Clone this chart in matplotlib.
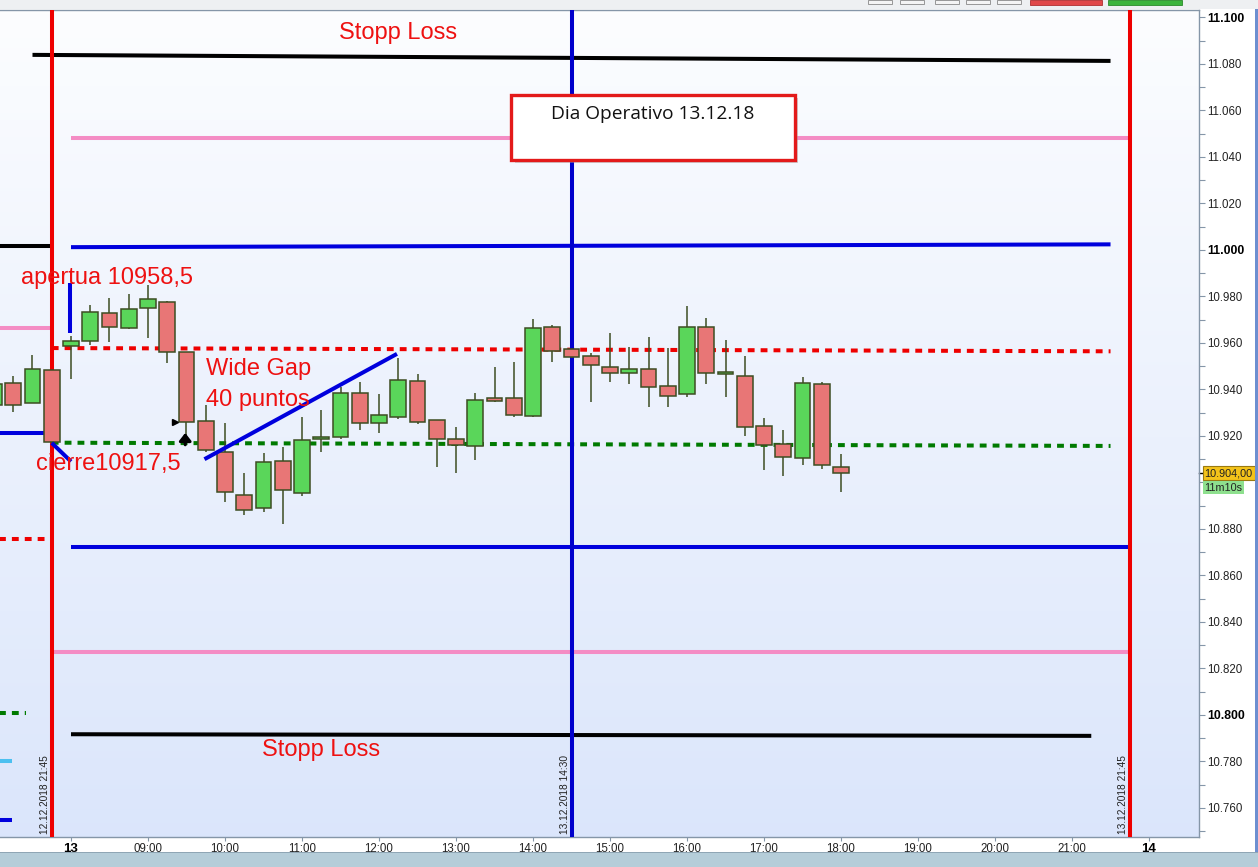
import matplotlib
matplotlib.use("Agg")
import matplotlib.pyplot as plt
import numpy as np
from matplotlib.patches import Rectangle

plt.rcParams['font.family'] = ['Liberation Sans', 'DejaVu Sans']

# ---------------- data ----------------
bar_times = ["12 21:00", "12 21:15", "12 21:30", "12 21:45",
             "13 08:00", "13 08:15", "13 08:30", "13 08:45",
             "13 09:00", "13 09:15", "13 09:30", "13 09:45",
             "13 10:00", "13 10:15", "13 10:30", "13 10:45",
             "13 11:00", "13 11:15", "13 11:30", "13 11:45",
             "13 12:00", "13 12:15", "13 12:30", "13 12:45",
             "13 13:00", "13 13:15", "13 13:30", "13 13:45",
             "13 14:00", "13 14:15", "13 14:30", "13 14:45",
             "13 15:00", "13 15:15", "13 15:30", "13 15:45",
             "13 16:00", "13 16:15", "13 16:30", "13 16:45",
             "13 17:00", "13 17:15", "13 17:30", "13 17:45",
             "13 18:00"]
opens = [10933.5, 10942.7, 10934.0, 10948.3,
         10958.5, 10961.0, 10972.8, 10966.3,
         10975.0, 10977.8, 10956.0, 10926.6,
         10913.3, 10894.5, 10888.9, 10909.4,
         10895.4, 10918.5, 10919.4, 10938.4,
         10925.5, 10928.3, 10943.7, 10926.7,
         10918.6, 10915.6, 10936.2, 10936.2,
         10928.4, 10966.8, 10957.3, 10954.3,
         10949.6, 10947.0, 10948.7, 10941.4,
         10937.9, 10966.8, 10946.6, 10945.9,
         10924.1, 10916.4, 10910.5, 10942.2,
         10906.5]
highs = [10944.0, 10945.9, 10954.7, 10948.5,
         10963.0, 10976.3, 10979.2, 10981.1,
         10984.9, 10978.0, 10956.0, 10933.3,
         10925.4, 10904.0, 10912.6, 10915.4,
         10928.3, 10931.0, 10941.0, 10943.1,
         10937.9, 10953.5, 10946.5, 10927.0,
         10924.0, 10938.4, 10949.5, 10951.7,
         10970.2, 10967.7, 10958.0, 10955.6,
         10964.4, 10958.1, 10962.4, 10957.7,
         10975.9, 10970.6, 10961.3, 10954.4,
         10927.9, 10922.6, 10945.2, 10943.0,
         10912.3]
lows = [10932.0, 10930.2, 10934.0, 10917.0,
        10944.4, 10959.1, 10960.6, 10966.0,
        10962.3, 10951.5, 10918.3, 10913.0,
        10891.4, 10886.0, 10887.5, 10882.0,
        10894.0, 10913.3, 10918.8, 10922.6,
        10921.4, 10927.5, 10925.0, 10906.5,
        10904.2, 10909.7, 10934.8, 10928.0,
        10928.0, 10952.0, 10953.5, 10934.4,
        10943.4, 10942.4, 10932.6, 10932.6,
        10936.6, 10942.2, 10936.9, 10919.8,
        10905.4, 10902.9, 10907.3, 10905.8,
        10896.0]
closes = [10942.5, 10933.3, 10948.7, 10917.5,
          10960.7, 10973.2, 10966.8, 10974.5,
          10978.8, 10956.0, 10925.9, 10914.0,
          10896.0, 10888.2, 10909.0, 10896.8,
          10918.3, 10919.0, 10938.4, 10925.5,
          10929.0, 10944.1, 10925.9, 10918.6,
          10916.0, 10935.5, 10935.0, 10928.9,
          10966.3, 10956.4, 10954.1, 10950.3,
          10947.0, 10948.7, 10941.0, 10937.1,
          10966.8, 10947.0, 10947.4, 10923.7,
          10916.0, 10910.8, 10942.7, 10907.4,
          10904.0]

# drawn levels: (start, end, value at start, value at end, colour, style)
level_starts = ["12 21:30", "13 08:00", "13 08:00", "12 20:00", "12 20:00",
                "12 21:45", "12 21:45", "12 20:00", "12 20:00", "13 08:00",
                "12 21:45", "12 20:00", "13 08:00", "12 20:00", "12 20:00"]
level_ends = ["13 21:30", "13 21:45", "13 21:30", "12 21:45", "12 21:45",
              "13 21:30", "13 21:30", "12 21:45", "12 21:45", "13 21:45",
              "13 21:45", "12 21:25", "13 21:15", "12 21:14", "12 21:14"]
level_v0 = [11083.9, 11048.0, 11001.2, 11001.7, 10966.3,
            10957.8, 10917.1, 10921.4, 10875.6, 10872.4,
            10827.1, 10801.0, 10791.7, 10780.2, 10754.8]
level_v1 = [11081.3, 11048.0, 11002.4, 11001.7, 10966.3,
            10956.4, 10915.7, 10921.4, 10875.6, 10872.4,
            10827.1, 10801.0, 10791.0, 10780.2, 10754.8]
level_colors = ["#000000", "#f48cc4", "#0000dd", "#000000", "#f48cc4",
                "#ee0000", "#007a00", "#0000dd", "#ee0000", "#0000dd",
                "#f48cc4", "#007a00", "#000000", "#4cc0f0", "#0000dd"]
level_dashed = [False, False, False, False, False,
                True, True, False, True, False,
                False, True, False, False, False]

# vertical session markers
vline_times = ["12 21:45", "13 14:30", "13 21:45"]
vline_labels = ["12.12.2018 21:45", "13.12.2018 14:30", "13.12.2018 21:45"]
vline_colors = ["#ee0000", "#0000cc", "#ee0000"]

# trend/annotation segments: (time0, value0, time1, value1)
seg_t0 = ["13 09:44", "12 21:45", "13 07:59"]
seg_v0 = [10910.0, 10917.0, 10985.7]
seg_t1 = ["13 12:14", "13 08:00", "13 07:59"]
seg_v1 = [10955.3, 10909.0, 10964.2]

x_tick_times = ["12 21:00", "13 08:00", "13 09:00", "13 10:00", "13 11:00", "13 12:00",
                "13 13:00", "13 14:00", "13 15:00", "13 16:00", "13 17:00",
                "13 18:00", "13 19:00", "13 20:00", "13 21:00", "13 22:00"]
x_tick_labels = ["21:00", "13", "09:00", "10:00", "11:00", "12:00", "13:00",
                 "14:00", "15:00", "16:00", "17:00", "18:00", "19:00",
                 "20:00", "21:00", "14"]

last_price = 10904.0
countdown = "11m10s"


def pos(t):
    """compressed session axis: 12th 22:00 == 13th 08:00"""
    day, hm = t.split()
    hh, mm = hm.split(":")
    h = int(hh) + int(mm) / 60.0
    return h - 14.0 if day == "12" else h


# ---------------- figure ----------------
W, H = 1258, 867
fig = plt.figure(figsize=(W / 100, H / 100), dpi=100)
fig.patch.set_facecolor("white")

ax_l, ax_r, ax_t, ax_b = 0, 1199, 10, 837
ax = fig.add_axes([ax_l / W, (H - ax_b) / H, (ax_r - ax_l) / W, (ax_b - ax_t) / H])

xmin, xmax = 7.078, 22.649
ymin, ymax = 10747.5, 11103.2

# background gradient
grad = np.linspace(0, 1, 256).reshape(-1, 1)
top_c = np.array([0.992, 0.995, 1.0])
bot_c = np.array([0.855, 0.898, 0.984])
img = top_c[None, None, :] * (1 - grad[:, :, None]) + bot_c[None, None, :] * grad[:, :, None]
ax.imshow(img, extent=[xmin - 1, xmax + 1, ymin - 10, ymax + 10], aspect="auto",
          origin="upper", zorder=0)

# levels
for s, e, v0, v1, c, d in zip(level_starts, level_ends, level_v0, level_v1, level_colors, level_dashed):
    ln, = ax.plot([pos(s), pos(e)], [v0, v1], color=c, lw=2.9, zorder=2,
                  solid_capstyle="butt")
    if d:
        ln.set_dashes((1.7, 1.5))

# vertical lines
for t, lab, c in zip(vline_times, vline_labels, vline_colors):
    ax.axvline(pos(t), color=c, lw=2.9, zorder=3)
    ax.annotate(lab, xy=(pos(t), ymin), xytext=(-1.2, 2), textcoords="offset points",
                rotation=90, ha="right", va="bottom", fontsize=7.3, color="#222222", zorder=6)

# candles
xs = np.array([pos(t) for t in bar_times])
o = np.array(opens); c_ = np.array(closes); hi = np.array(highs); lo = np.array(lows)
up = c_ >= o
edge = "#3d4d22"
ax.vlines(xs, lo, hi, color=edge, lw=1.1, zorder=4)
body_bot = np.minimum(o, c_)
body_h = np.maximum(np.abs(c_ - o), 0.9)
fills = np.where(up, "#5ad65a", "#e87676")
ax.bar(xs, body_h, bottom=body_bot, width=0.205, color=fills, edgecolor=edge,
       linewidth=1.1, zorder=5)

# annotation segments
for t0, v0, t1, v1 in zip(seg_t0, seg_v0, seg_t1, seg_v1):
    ax.plot([pos(t0), pos(t1)], [v0, v1], color="#0000dd", lw=2.9, zorder=6,
            solid_capstyle="butt")

# small markers
ax.annotate("", xy=(pos("13 09:29"), 10922.5), xytext=(pos("13 09:29"), 10915.0),
            arrowprops=dict(arrowstyle="-|>,head_width=0.35,head_length=0.45",
                            color="black", lw=2.2), zorder=7)
ax.plot([pos("13 09:21")], [10926.0], marker=">", color="black", ms=4.5, zorder=7)

# texts
red = "#ee1111"
ax.text(pos("13 12:15"), 11093.5, "Stopp Loss", color=red, fontsize=17, ha="center", va="center", zorder=7)
ax.text(pos("13 11:15"), 10785.0, "Stopp Loss", color=red, fontsize=17, ha="center", va="center", zorder=7)
ax.text(pos("12 21:21"), 10988.0, "apertua 10958,5", color=red, fontsize=17, ha="left", va="center", zorder=7)
ax.text(pos("13 09:45"), 10949.0, "Wide Gap", color=red, fontsize=17, ha="left", va="center", zorder=7)
ax.text(pos("13 09:45"), 10935.5, "40 puntos", color=red, fontsize=17, ha="left", va="center", zorder=7)
ax.text(pos("12 21:33"), 10908.0, "cierre10917,5", color=red, fontsize=17, ha="left", va="center", zorder=7)

# info box
bx0, bx1 = pos("13 13:43"), pos("13 17:24")
by0, by1 = 11000 - (160 - 250) / 2.325, 11000 - (95 - 250) / 2.325
ax.add_patch(Rectangle((bx0 + 0.045, by0 - 1.5), bx1 - bx0, by1 - by0, facecolor="#a0a0a0",
                       alpha=0.45, edgecolor="none", zorder=7))
ax.add_patch(Rectangle((bx0, by0), bx1 - bx0, by1 - by0, facecolor="white",
                       edgecolor="#e31a1a", lw=2.4, zorder=8))
ax.text((bx0 + bx1) / 2, by1 - 8, "Dia Operativo 13.12.18", family=["Open Sans", "DejaVu Sans"],
        fontsize=13.8, ha="center", va="center", color="#111111", zorder=9)

# axes styling
ax.spines["left"].set_visible(False)
for side in ["right", "bottom", "top"]:
    ax.spines[side].set_color("#8596a8")
    ax.spines[side].set_linewidth(1.0)

ax.yaxis.tick_right()
yt = np.arange(10760, 11101, 20)
ax.set_yticks(yt)
ylabels = []
for v in yt:
    if abs(v - 10900) < 1:
        ylabels.append("")
    else:
        ylabels.append(f"{v:,.0f}".replace(",", "."))
ax.set_yticklabels(ylabels, fontsize=8.3, color="#222222")
for lab, v in zip(ax.get_yticklabels(), yt):
    if v % 100 == 0:
        lab.set_fontweight("bold")
        lab.set_fontsize(8.8)
        lab.set_color("#000000")
ax.set_yticks(np.arange(10750, 11101, 10), minor=True)
ax.tick_params(axis="y", which="both", direction="out", length=4, width=0.8, color="#8596a8", pad=2)

ax.set_xticks([pos(t) for t in x_tick_times])
ax.set_xticklabels(x_tick_labels, fontsize=8.3, color="#222222")
for lab, txt in zip(ax.get_xticklabels(), x_tick_labels):
    if ":" not in txt:
        lab.set_fontweight("bold")
        lab.set_fontsize(9.5)
        lab.set_color("#000000")
ax.tick_params(axis="x", direction="out", length=3, width=0.8, color="#8596a8", pad=1.5)

# limits last (set_ticks may expand them)
ax.set_xlim(xmin, xmax)
ax.set_ylim(ymin, ymax)

# price tag + countdown
ax.annotate(f"{last_price:,.2f}".replace(",", "X").replace(".", ",").replace("X", "."),
            xy=(1.0, last_price), xycoords=("axes fraction", "data"),
            xytext=(4, 0), textcoords="offset points", fontsize=7.8, ha="left", va="center",
            color="#222222", annotation_clip=False,
            bbox=dict(boxstyle="square,pad=0.17", fc="#f3c31a", ec="#9a7a10", lw=0.8), zorder=10)
ax.annotate(countdown, xy=(1.0, last_price - 6.2), xycoords=("axes fraction", "data"),
            xytext=(4, 0), textcoords="offset points", fontsize=7.8, ha="left", va="center",
            color="#222222", annotation_clip=False,
            bbox=dict(boxstyle="square,pad=0.17", fc="#8ee08e", ec="none"), zorder=10)
ax.plot([1.0, 1.004], [last_price, last_price], transform=ax.get_yaxis_transform(),
        color="black", lw=1, clip_on=False)

# chrome: bottom scrollbar, top toolbar, right border
fig.add_artist(Rectangle((0, 0), 1, 14 / H, transform=fig.transFigure, facecolor="#b5cdd9",
                         edgecolor="none"))
fig.add_artist(Rectangle((0, 14 / H), 1, 1 / H, transform=fig.transFigure, facecolor="#8fa6b5",
                         edgecolor="none"))
fig.add_artist(Rectangle((0, (H - 9) / H), 1, 9 / H, transform=fig.transFigure, facecolor="#eef0f2",
                         edgecolor="none"))
fig.add_artist(Rectangle((1030 / W, (H - 5) / H), 72 / W, 5 / H, transform=fig.transFigure,
                         facecolor="#e04848", edgecolor="#b03030", lw=0.6))
fig.add_artist(Rectangle((1108 / W, (H - 5) / H), 74 / W, 5 / H, transform=fig.transFigure,
                         facecolor="#3cb43c", edgecolor="#2a8a2a", lw=0.6))
for bx in [868, 900, 935, 966, 997]:
    fig.add_artist(Rectangle((bx / W, (H - 4) / H), 24 / W, 4 / H, transform=fig.transFigure,
                             facecolor="#f4f4f4", edgecolor="#888888", lw=0.6))
fig.add_artist(Rectangle((1255 / W, 15 / H), 3 / W, (H - 24) / H, transform=fig.transFigure,
                         facecolor="#6d8fd0", edgecolor="none"))

fig.savefig("out.png", dpi=100)
